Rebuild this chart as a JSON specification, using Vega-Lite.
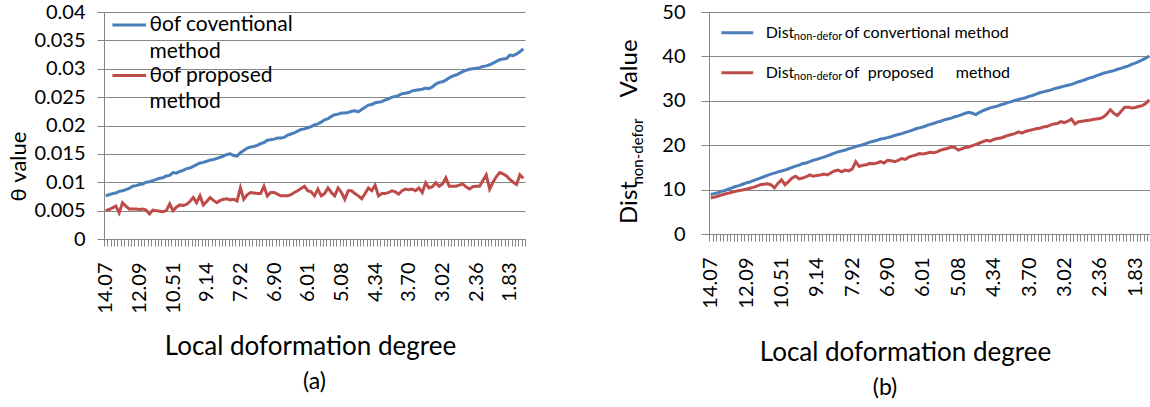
{
  "$schema": "https://vega.github.io/schema/vega-lite/v6.json",
  "padding": {"left": 7, "top": 2, "right": 0, "bottom": 0},
  "spacing": 83,
  "config": {
    "view": {"stroke": null},
    "font": "Lato",
    "axis": {"labelFont": "Lato", "titleFont": "Lato", "labelColor": "#000", "titleColor": "#000", "domainColor": "#868686", "tickColor": "#868686", "gridColor": "#868686", "titleFontWeight": "normal", "labelFontSize": 20, "titleFontSize": 26},
    "text": {"font": "Lato", "color": "#000"},
    "title": {"font": "Lato", "fontWeight": "normal", "fontSize": 23, "color": "#000"}
  },
  "datasets": {
    "d": [
      {"i":1,"deg":"14.07","a_conv":0.0076,"a_prop":0.0050,"b_conv":8.9,"b_prop":8.1},
      {"i":2,"deg":"13.87","a_conv":0.0078,"a_prop":0.0052,"b_conv":9.1,"b_prop":8.3},
      {"i":3,"deg":"13.67","a_conv":0.0080,"a_prop":0.0055,"b_conv":9.3,"b_prop":8.5},
      {"i":4,"deg":"13.48","a_conv":0.0081,"a_prop":0.0058,"b_conv":9.6,"b_prop":8.8},
      {"i":5,"deg":"13.28","a_conv":0.0084,"a_prop":0.0046,"b_conv":9.8,"b_prop":9.0},
      {"i":6,"deg":"13.08","a_conv":0.0085,"a_prop":0.0064,"b_conv":10.1,"b_prop":9.2},
      {"i":7,"deg":"12.88","a_conv":0.0087,"a_prop":0.0058,"b_conv":10.4,"b_prop":9.4},
      {"i":8,"deg":"12.68","a_conv":0.0089,"a_prop":0.0053,"b_conv":10.7,"b_prop":9.6},
      {"i":9,"deg":"12.48","a_conv":0.0093,"a_prop":0.0053,"b_conv":10.9,"b_prop":9.8},
      {"i":10,"deg":"12.29","a_conv":0.0094,"a_prop":0.0053,"b_conv":11.2,"b_prop":9.9},
      {"i":11,"deg":"12.09","a_conv":0.0096,"a_prop":0.0052,"b_conv":11.5,"b_prop":10.1},
      {"i":12,"deg":"11.93","a_conv":0.0097,"a_prop":0.0053,"b_conv":11.7,"b_prop":10.3},
      {"i":13,"deg":"11.77","a_conv":0.0100,"a_prop":0.0051,"b_conv":12.0,"b_prop":10.5},
      {"i":14,"deg":"11.61","a_conv":0.0101,"a_prop":0.0044,"b_conv":12.3,"b_prop":10.8},
      {"i":15,"deg":"11.45","a_conv":0.0103,"a_prop":0.0051,"b_conv":12.6,"b_prop":11.1},
      {"i":16,"deg":"11.30","a_conv":0.0105,"a_prop":0.0050,"b_conv":12.9,"b_prop":11.2},
      {"i":17,"deg":"11.14","a_conv":0.0107,"a_prop":0.0049,"b_conv":13.2,"b_prop":11.3},
      {"i":18,"deg":"10.98","a_conv":0.0108,"a_prop":0.0048,"b_conv":13.5,"b_prop":11.1},
      {"i":19,"deg":"10.82","a_conv":0.0111,"a_prop":0.0050,"b_conv":13.7,"b_prop":10.4},
      {"i":20,"deg":"10.67","a_conv":0.0112,"a_prop":0.0062,"b_conv":14.0,"b_prop":11.4},
      {"i":21,"deg":"10.51","a_conv":0.0117,"a_prop":0.0050,"b_conv":14.2,"b_prop":12.2},
      {"i":22,"deg":"10.37","a_conv":0.0116,"a_prop":0.0056,"b_conv":14.4,"b_prop":11.1},
      {"i":23,"deg":"10.24","a_conv":0.0119,"a_prop":0.0060,"b_conv":14.7,"b_prop":11.8},
      {"i":24,"deg":"10.10","a_conv":0.0121,"a_prop":0.0059,"b_conv":15.0,"b_prop":12.6},
      {"i":25,"deg":"9.96","a_conv":0.0124,"a_prop":0.0061,"b_conv":15.3,"b_prop":13.0},
      {"i":26,"deg":"9.82","a_conv":0.0125,"a_prop":0.0066,"b_conv":15.5,"b_prop":12.4},
      {"i":27,"deg":"9.69","a_conv":0.0128,"a_prop":0.0073,"b_conv":15.9,"b_prop":12.6},
      {"i":28,"deg":"9.55","a_conv":0.0131,"a_prop":0.0064,"b_conv":16.0,"b_prop":12.9},
      {"i":29,"deg":"9.41","a_conv":0.0134,"a_prop":0.0076,"b_conv":16.3,"b_prop":13.3},
      {"i":30,"deg":"9.28","a_conv":0.0135,"a_prop":0.0060,"b_conv":16.6,"b_prop":13.0},
      {"i":31,"deg":"9.14","a_conv":0.0137,"a_prop":0.0066,"b_conv":16.8,"b_prop":13.2},
      {"i":32,"deg":"9.02","a_conv":0.0139,"a_prop":0.0073,"b_conv":17.1,"b_prop":13.3},
      {"i":33,"deg":"8.90","a_conv":0.0140,"a_prop":0.0068,"b_conv":17.3,"b_prop":13.5},
      {"i":34,"deg":"8.77","a_conv":0.0142,"a_prop":0.0064,"b_conv":17.6,"b_prop":13.3},
      {"i":35,"deg":"8.65","a_conv":0.0144,"a_prop":0.0068,"b_conv":17.9,"b_prop":13.8},
      {"i":36,"deg":"8.53","a_conv":0.0146,"a_prop":0.0070,"b_conv":18.2,"b_prop":14.2},
      {"i":37,"deg":"8.41","a_conv":0.0149,"a_prop":0.0071,"b_conv":18.5,"b_prop":14.4},
      {"i":38,"deg":"8.29","a_conv":0.0150,"a_prop":0.0069,"b_conv":18.7,"b_prop":14.0},
      {"i":39,"deg":"8.16","a_conv":0.0147,"a_prop":0.0070,"b_conv":18.9,"b_prop":14.4},
      {"i":40,"deg":"8.04","a_conv":0.0146,"a_prop":0.0067,"b_conv":19.2,"b_prop":14.2},
      {"i":41,"deg":"7.92","a_conv":0.0152,"a_prop":0.0090,"b_conv":19.4,"b_prop":14.6},
      {"i":42,"deg":"7.82","a_conv":0.0156,"a_prop":0.0070,"b_conv":19.7,"b_prop":16.3},
      {"i":43,"deg":"7.72","a_conv":0.0160,"a_prop":0.0078,"b_conv":19.9,"b_prop":15.2},
      {"i":44,"deg":"7.61","a_conv":0.0162,"a_prop":0.0082,"b_conv":20.1,"b_prop":15.5},
      {"i":45,"deg":"7.51","a_conv":0.0163,"a_prop":0.0081,"b_conv":20.4,"b_prop":15.6},
      {"i":46,"deg":"7.41","a_conv":0.0165,"a_prop":0.0080,"b_conv":20.7,"b_prop":15.9},
      {"i":47,"deg":"7.31","a_conv":0.0168,"a_prop":0.0080,"b_conv":20.9,"b_prop":15.8},
      {"i":48,"deg":"7.21","a_conv":0.0170,"a_prop":0.0093,"b_conv":21.1,"b_prop":16.0},
      {"i":49,"deg":"7.10","a_conv":0.0174,"a_prop":0.0076,"b_conv":21.4,"b_prop":16.3},
      {"i":50,"deg":"7.00","a_conv":0.0175,"a_prop":0.0082,"b_conv":21.5,"b_prop":16.0},
      {"i":51,"deg":"6.90","a_conv":0.0176,"a_prop":0.0082,"b_conv":21.7,"b_prop":16.6},
      {"i":52,"deg":"6.81","a_conv":0.0178,"a_prop":0.0079,"b_conv":21.9,"b_prop":16.5},
      {"i":53,"deg":"6.72","a_conv":0.0178,"a_prop":0.0076,"b_conv":22.2,"b_prop":16.3},
      {"i":54,"deg":"6.63","a_conv":0.0179,"a_prop":0.0076,"b_conv":22.4,"b_prop":16.6},
      {"i":55,"deg":"6.54","a_conv":0.0183,"a_prop":0.0076,"b_conv":22.6,"b_prop":17.0},
      {"i":56,"deg":"6.46","a_conv":0.0185,"a_prop":0.0078,"b_conv":22.9,"b_prop":16.8},
      {"i":57,"deg":"6.37","a_conv":0.0187,"a_prop":0.0082,"b_conv":23.1,"b_prop":17.3},
      {"i":58,"deg":"6.28","a_conv":0.0190,"a_prop":0.0085,"b_conv":23.4,"b_prop":17.6},
      {"i":59,"deg":"6.19","a_conv":0.0193,"a_prop":0.0089,"b_conv":23.7,"b_prop":17.8},
      {"i":60,"deg":"6.10","a_conv":0.0194,"a_prop":0.0093,"b_conv":23.9,"b_prop":18.1},
      {"i":61,"deg":"6.01","a_conv":0.0196,"a_prop":0.0085,"b_conv":24.1,"b_prop":18.0},
      {"i":62,"deg":"5.92","a_conv":0.0198,"a_prop":0.0083,"b_conv":24.4,"b_prop":18.2},
      {"i":63,"deg":"5.82","a_conv":0.0201,"a_prop":0.0076,"b_conv":24.7,"b_prop":18.4},
      {"i":64,"deg":"5.73","a_conv":0.0203,"a_prop":0.0088,"b_conv":24.9,"b_prop":18.3},
      {"i":65,"deg":"5.64","a_conv":0.0206,"a_prop":0.0076,"b_conv":25.2,"b_prop":18.5},
      {"i":66,"deg":"5.55","a_conv":0.0210,"a_prop":0.0080,"b_conv":25.4,"b_prop":18.9},
      {"i":67,"deg":"5.45","a_conv":0.0212,"a_prop":0.0090,"b_conv":25.7,"b_prop":19.1},
      {"i":68,"deg":"5.36","a_conv":0.0216,"a_prop":0.0082,"b_conv":25.9,"b_prop":19.3},
      {"i":69,"deg":"5.27","a_conv":0.0219,"a_prop":0.0076,"b_conv":26.1,"b_prop":19.6},
      {"i":70,"deg":"5.17","a_conv":0.0220,"a_prop":0.0090,"b_conv":26.4,"b_prop":19.5},
      {"i":71,"deg":"5.08","a_conv":0.0222,"a_prop":0.0082,"b_conv":26.6,"b_prop":18.9},
      {"i":72,"deg":"5.01","a_conv":0.0222,"a_prop":0.0070,"b_conv":26.9,"b_prop":19.2},
      {"i":73,"deg":"4.93","a_conv":0.0223,"a_prop":0.0085,"b_conv":27.2,"b_prop":19.5},
      {"i":74,"deg":"4.86","a_conv":0.0225,"a_prop":0.0085,"b_conv":27.4,"b_prop":19.6},
      {"i":75,"deg":"4.78","a_conv":0.0226,"a_prop":0.0080,"b_conv":27.2,"b_prop":19.9},
      {"i":76,"deg":"4.71","a_conv":0.0224,"a_prop":0.0076,"b_conv":26.9,"b_prop":20.2},
      {"i":77,"deg":"4.64","a_conv":0.0228,"a_prop":0.0071,"b_conv":27.4,"b_prop":20.5},
      {"i":78,"deg":"4.56","a_conv":0.0232,"a_prop":0.0080,"b_conv":27.8,"b_prop":20.8},
      {"i":79,"deg":"4.49","a_conv":0.0236,"a_prop":0.0090,"b_conv":28.1,"b_prop":21.1},
      {"i":80,"deg":"4.41","a_conv":0.0237,"a_prop":0.0085,"b_conv":28.4,"b_prop":20.9},
      {"i":81,"deg":"4.34","a_conv":0.0240,"a_prop":0.0095,"b_conv":28.6,"b_prop":21.3},
      {"i":82,"deg":"4.28","a_conv":0.0241,"a_prop":0.0076,"b_conv":28.8,"b_prop":21.5},
      {"i":83,"deg":"4.21","a_conv":0.0242,"a_prop":0.0080,"b_conv":29.1,"b_prop":21.6},
      {"i":84,"deg":"4.15","a_conv":0.0245,"a_prop":0.0080,"b_conv":29.3,"b_prop":21.9},
      {"i":85,"deg":"4.09","a_conv":0.0247,"a_prop":0.0082,"b_conv":29.6,"b_prop":22.2},
      {"i":86,"deg":"4.02","a_conv":0.0250,"a_prop":0.0085,"b_conv":29.8,"b_prop":22.4},
      {"i":87,"deg":"3.96","a_conv":0.0251,"a_prop":0.0083,"b_conv":30.1,"b_prop":22.6},
      {"i":88,"deg":"3.89","a_conv":0.0253,"a_prop":0.0079,"b_conv":30.3,"b_prop":23.0},
      {"i":89,"deg":"3.83","a_conv":0.0256,"a_prop":0.0085,"b_conv":30.5,"b_prop":22.7},
      {"i":90,"deg":"3.76","a_conv":0.0257,"a_prop":0.0088,"b_conv":30.7,"b_prop":23.1},
      {"i":91,"deg":"3.70","a_conv":0.0258,"a_prop":0.0087,"b_conv":31.0,"b_prop":23.3},
      {"i":92,"deg":"3.63","a_conv":0.0261,"a_prop":0.0088,"b_conv":31.2,"b_prop":23.5},
      {"i":93,"deg":"3.56","a_conv":0.0262,"a_prop":0.0085,"b_conv":31.5,"b_prop":23.7},
      {"i":94,"deg":"3.50","a_conv":0.0263,"a_prop":0.0090,"b_conv":31.8,"b_prop":23.8},
      {"i":95,"deg":"3.43","a_conv":0.0264,"a_prop":0.0082,"b_conv":32.0,"b_prop":24.1},
      {"i":96,"deg":"3.36","a_conv":0.0266,"a_prop":0.0099,"b_conv":32.2,"b_prop":24.2},
      {"i":97,"deg":"3.29","a_conv":0.0265,"a_prop":0.0090,"b_conv":32.4,"b_prop":24.5},
      {"i":98,"deg":"3.22","a_conv":0.0268,"a_prop":0.0092,"b_conv":32.7,"b_prop":24.8},
      {"i":99,"deg":"3.16","a_conv":0.0273,"a_prop":0.0099,"b_conv":32.9,"b_prop":24.9},
      {"i":100,"deg":"3.09","a_conv":0.0276,"a_prop":0.0093,"b_conv":33.1,"b_prop":25.3},
      {"i":101,"deg":"3.02","a_conv":0.0277,"a_prop":0.0097,"b_conv":33.3,"b_prop":25.1},
      {"i":102,"deg":"2.95","a_conv":0.0280,"a_prop":0.0108,"b_conv":33.5,"b_prop":25.4},
      {"i":103,"deg":"2.89","a_conv":0.0284,"a_prop":0.0093,"b_conv":33.7,"b_prop":25.9},
      {"i":104,"deg":"2.82","a_conv":0.0287,"a_prop":0.0093,"b_conv":34.0,"b_prop":24.8},
      {"i":105,"deg":"2.76","a_conv":0.0289,"a_prop":0.0093,"b_conv":34.3,"b_prop":25.3},
      {"i":106,"deg":"2.69","a_conv":0.0292,"a_prop":0.0095,"b_conv":34.5,"b_prop":25.4},
      {"i":107,"deg":"2.62","a_conv":0.0295,"a_prop":0.0097,"b_conv":34.8,"b_prop":25.5},
      {"i":108,"deg":"2.56","a_conv":0.0297,"a_prop":0.0092,"b_conv":35.1,"b_prop":25.6},
      {"i":109,"deg":"2.49","a_conv":0.0299,"a_prop":0.0088,"b_conv":35.3,"b_prop":25.8},
      {"i":110,"deg":"2.43","a_conv":0.0300,"a_prop":0.0092,"b_conv":35.6,"b_prop":25.9},
      {"i":111,"deg":"2.36","a_conv":0.0301,"a_prop":0.0093,"b_conv":35.9,"b_prop":26.0},
      {"i":112,"deg":"2.31","a_conv":0.0302,"a_prop":0.0093,"b_conv":36.2,"b_prop":26.3},
      {"i":113,"deg":"2.25","a_conv":0.0304,"a_prop":0.0103,"b_conv":36.4,"b_prop":27.0},
      {"i":114,"deg":"2.20","a_conv":0.0305,"a_prop":0.0113,"b_conv":36.6,"b_prop":28.0},
      {"i":115,"deg":"2.15","a_conv":0.0307,"a_prop":0.0088,"b_conv":36.8,"b_prop":27.2},
      {"i":116,"deg":"2.10","a_conv":0.0310,"a_prop":0.0100,"b_conv":37.1,"b_prop":26.7},
      {"i":117,"deg":"2.04","a_conv":0.0313,"a_prop":0.0110,"b_conv":37.3,"b_prop":27.6},
      {"i":118,"deg":"1.99","a_conv":0.0316,"a_prop":0.0117,"b_conv":37.6,"b_prop":28.5},
      {"i":119,"deg":"1.94","a_conv":0.0317,"a_prop":0.0115,"b_conv":37.8,"b_prop":28.6},
      {"i":120,"deg":"1.88","a_conv":0.0318,"a_prop":0.0111,"b_conv":38.2,"b_prop":28.4},
      {"i":121,"deg":"1.83","a_conv":0.0324,"a_prop":0.0105,"b_conv":38.5,"b_prop":28.5},
      {"i":122,"deg":"1.78","a_conv":0.0323,"a_prop":0.0100,"b_conv":38.8,"b_prop":28.7},
      {"i":123,"deg":"1.73","a_conv":0.0326,"a_prop":0.0096,"b_conv":39.2,"b_prop":28.9},
      {"i":124,"deg":"1.68","a_conv":0.0330,"a_prop":0.0113,"b_conv":39.6,"b_prop":29.4},
      {"i":125,"deg":"1.63","a_conv":0.0335,"a_prop":0.0107,"b_conv":40.1,"b_prop":30.2}
    ]
  },
  "hconcat": [
    {
      "width": 421,
      "height": 227,
      "title": {"text": "(a)", "orient": "bottom", "offset": 12},
      "resolve": {"axis": {"y": "independent"}},
      "layer": [
        {
          "data": {"name": "d"},
          "transform": [{"fold": ["a_conv", "a_prop"], "as": ["series", "value"]}],
          "mark": {"type": "line", "strokeWidth": 3},
          "encoding": {
            "x": {"field": "deg", "type": "ordinal", "sort": null,
              "scale": {"type": "band", "paddingInner": 0, "paddingOuter": 0},
              "axis": {"tickBand": "extent", "labelAngle": 270, "labelAlign": "right", "labelBaseline": "middle", "labelPadding": 16, "tickSize": 7, "labelOverlap": false, "grid": false,
                "labelExpr": "indexof(['14.07','12.09','10.51','9.14','7.92','6.90','6.01','5.08','4.34','3.70','3.02','2.36','1.83'], datum.value) >= 0 ? datum.value : ''",
                "title": "Local doformation degree", "titleX": 206, "titleY": 107, "titleBaseline": "middle", "titleAlign": "center"}},
            "y": {"field": "value", "type": "quantitative",
              "scale": {"domain": [0, 0.04], "nice": false},
              "axis": {"orient": "left", "values": [0, 0.005, 0.01, 0.015, 0.02, 0.025, 0.03, 0.035, 0.04], "labelOverlap": false, "format": "~g", "tickSize": 7, "labelPadding": 12, "grid": true,
                "title": "θ value", "titleX": -86, "titleY": 154, "titleAngle": 270, "titleAlign": "center", "titleBaseline": "middle", "titleFontSize": 22}},
            "color": {"field": "series", "type": "nominal", "scale": {"domain": ["a_conv", "a_prop"], "range": ["#4A7EBB", "#BE4B48"]}, "legend": null}
          }
        },
        {
          "data": {"values": [{}]},
          "mark": {"type": "rule", "strokeWidth": 3, "color": "#4A7EBB"},
          "encoding": {"x": {"datum": "13.67", "type": "ordinal"}, "x2": {"datum": "11.77"}, "y": {"datum": 0.0377, "type": "quantitative", "axis": null}}
        },
        {
          "data": {"values": [{}]},
          "mark": {"type": "rule", "strokeWidth": 3, "color": "#BE4B48"},
          "encoding": {"x": {"datum": "13.67", "type": "ordinal"}, "x2": {"datum": "11.77"}, "y": {"datum": 0.0288, "type": "quantitative", "axis": null}}
        },
        {
          "data": {"values": [{}]},
          "mark": {"type": "text", "align": "left", "baseline": "middle", "fontSize": 21, "text": "θof coventional"},
          "encoding": {"x": {"datum": "11.61", "type": "ordinal"}, "y": {"datum": 0.0377, "type": "quantitative", "axis": null}}
        },
        {
          "data": {"values": [{}]},
          "mark": {"type": "text", "align": "left", "baseline": "middle", "fontSize": 21, "text": "method"},
          "encoding": {"x": {"datum": "11.61", "type": "ordinal"}, "y": {"datum": 0.0329, "type": "quantitative", "axis": null}}
        },
        {
          "data": {"values": [{}]},
          "mark": {"type": "text", "align": "left", "baseline": "middle", "fontSize": 21, "text": "θof proposed"},
          "encoding": {"x": {"datum": "11.61", "type": "ordinal"}, "y": {"datum": 0.0288, "type": "quantitative", "axis": null}}
        },
        {
          "data": {"values": [{}]},
          "mark": {"type": "text", "align": "left", "baseline": "middle", "fontSize": 21, "text": "method"},
          "encoding": {"x": {"datum": "11.61", "type": "ordinal"}, "y": {"datum": 0.0241, "type": "quantitative", "axis": null}}
        }
      ]
    },
    {
      "width": 442,
      "height": 222,
      "title": {"text": "(b)", "orient": "bottom", "offset": 12, "dx": -45},
      "resolve": {"axis": {"y": "independent"}},
      "layer": [
        {
          "data": {"name": "d"},
          "transform": [{"fold": ["b_conv", "b_prop"], "as": ["series", "value"]}],
          "mark": {"type": "line", "strokeWidth": 3},
          "encoding": {
            "x": {"field": "deg", "type": "ordinal", "sort": null,
              "scale": {"type": "band", "paddingInner": 0, "paddingOuter": 0},
              "axis": {"tickBand": "extent", "labelAngle": 270, "labelAlign": "right", "labelBaseline": "middle", "labelPadding": 16, "tickSize": 7, "labelOverlap": false, "grid": false,
                "labelExpr": "indexof(['14.07','12.09','10.51','9.14','7.92','6.90','6.01','5.08','4.34','3.70','3.02','2.36','1.83'], datum.value) >= 0 ? datum.value : ''",
                "title": "Local doformation degree", "titleX": 196, "titleY": 118, "titleBaseline": "middle", "titleAlign": "center"}},
            "y": {"field": "value", "type": "quantitative",
              "scale": {"domain": [0, 50], "nice": false},
              "axis": {"orient": "left", "values": [0, 10, 20, 30, 40, 50], "tickSize": 8, "labelPadding": 16, "grid": true,
                "title": "Value", "titleX": -80, "titleY": 56, "titleAngle": 270, "titleAlign": "center", "titleBaseline": "middle", "titleFontSize": 24}},
            "color": {"field": "series", "type": "nominal", "scale": {"domain": ["b_conv", "b_prop"], "range": ["#4A7EBB", "#BE4B48"]}, "legend": null}
          }
        },
        {
          "data": {"values": [{}]},
          "mark": {"type": "rule", "strokeWidth": 3, "color": "#4A7EBB"},
          "encoding": {"x": {"datum": "13.48", "type": "ordinal"}, "x2": {"datum": "11.77"},
            "y": {"datum": 45.3, "type": "quantitative", "axis": {"orient": "left", "domain": false, "ticks": false, "labels": false, "grid": false, "title": "Dist", "titleX": -80, "titleY": 190, "titleAngle": 270, "titleAlign": "center", "titleBaseline": "middle", "titleFontSize": 24}}}
        },
        {
          "data": {"values": [{}]},
          "mark": {"type": "rule", "strokeWidth": 3, "color": "#BE4B48"},
          "encoding": {"x": {"datum": "13.48", "type": "ordinal"}, "x2": {"datum": "11.77"},
            "y": {"datum": 36.3, "type": "quantitative", "axis": {"orient": "left", "domain": false, "ticks": false, "labels": false, "grid": false, "title": "non-defor", "titleX": -72, "titleY": 139, "titleAngle": 270, "titleAlign": "center", "titleBaseline": "middle", "titleFontSize": 15}}}
        },
        {
          "data": {"values": [{}]},
          "mark": {"type": "text", "align": "left", "baseline": "middle", "fontSize": 16, "text": "Dist", "dx": 2},
          "encoding": {"x": {"datum": "11.30", "type": "ordinal"}, "y": {"datum": 45.3, "type": "quantitative", "axis": null}}
        },
        {
          "data": {"values": [{}]},
          "mark": {"type": "text", "align": "left", "baseline": "middle", "fontSize": 11, "text": "non-defor", "dx": 30, "dy": 4},
          "encoding": {"x": {"datum": "11.30", "type": "ordinal"}, "y": {"datum": 45.3, "type": "quantitative", "axis": null}}
        },
        {
          "data": {"values": [{}]},
          "mark": {"type": "text", "align": "left", "baseline": "middle", "fontSize": 16, "text": "of convertional method", "dx": 81},
          "encoding": {"x": {"datum": "11.30", "type": "ordinal"}, "y": {"datum": 45.3, "type": "quantitative", "axis": null}}
        },
        {
          "data": {"values": [{}]},
          "mark": {"type": "text", "align": "left", "baseline": "middle", "fontSize": 16, "text": "Dist", "dx": 2},
          "encoding": {"x": {"datum": "11.30", "type": "ordinal"}, "y": {"datum": 36.3, "type": "quantitative", "axis": null}}
        },
        {
          "data": {"values": [{}]},
          "mark": {"type": "text", "align": "left", "baseline": "middle", "fontSize": 11, "text": "non-defor", "dx": 30, "dy": 4},
          "encoding": {"x": {"datum": "11.30", "type": "ordinal"}, "y": {"datum": 36.3, "type": "quantitative", "axis": null}}
        },
        {
          "data": {"values": [{}]},
          "mark": {"type": "text", "align": "left", "baseline": "middle", "fontSize": 16, "text": "of", "dx": 81},
          "encoding": {"x": {"datum": "11.30", "type": "ordinal"}, "y": {"datum": 36.3, "type": "quantitative", "axis": null}}
        },
        {
          "data": {"values": [{}]},
          "mark": {"type": "text", "align": "left", "baseline": "middle", "fontSize": 16, "text": "proposed", "dx": 104},
          "encoding": {"x": {"datum": "11.30", "type": "ordinal"}, "y": {"datum": 36.3, "type": "quantitative", "axis": null}}
        },
        {
          "data": {"values": [{}]},
          "mark": {"type": "text", "align": "left", "baseline": "middle", "fontSize": 16, "text": "method", "dx": 192},
          "encoding": {"x": {"datum": "11.30", "type": "ordinal"}, "y": {"datum": 36.3, "type": "quantitative", "axis": null}}
        }
      ]
    }
  ]
}
